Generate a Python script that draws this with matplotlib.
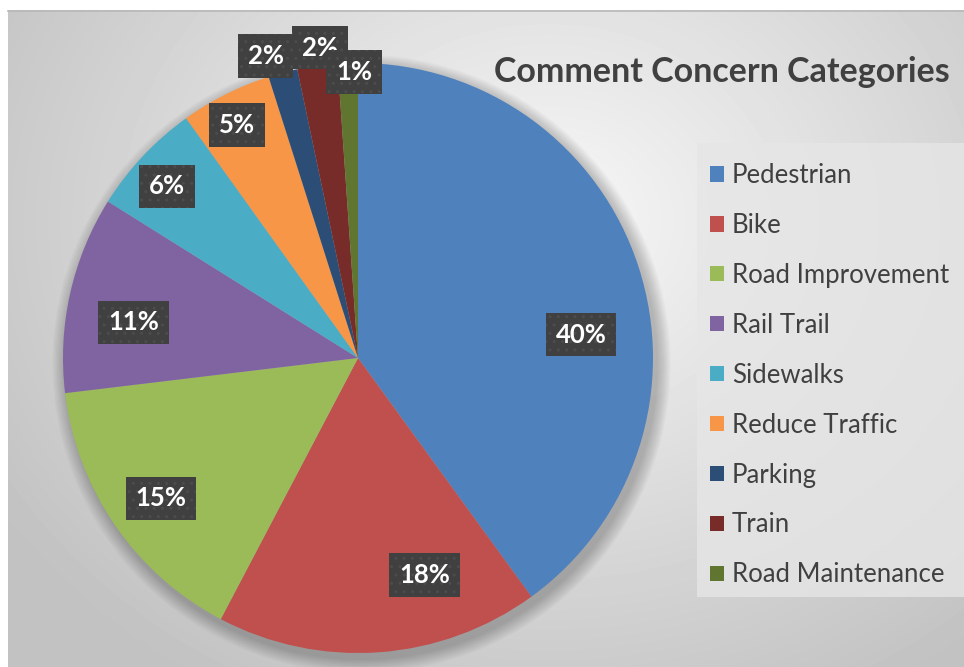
import numpy as np
import matplotlib.pyplot as plt
from matplotlib.patches import Rectangle, Circle

plt.rcParams['font.family'] = ['Lato', 'DejaVu Sans']

# data
categories = ['Pedestrian', 'Bike', 'Road Improvement', 'Rail Trail', 'Sidewalks',
              'Reduce Traffic', 'Parking', 'Train', 'Road Maintenance']
shares = [40.0, 17.7, 15.4, 10.8, 6.2, 5.0, 1.6, 2.2, 1.1]
colors = ['#4F81BD', '#C0504D', '#9BBB59', '#8064A2', '#4BACC6',
          '#F79646', '#2C4D75', '#772C2A', '#5F7530']

# label placement (clockwise degrees from top, radius fraction)
label_pos = [(84, 0.76), (163, 0.77), (234.5, 0.82), (279, 0.77), (312, 0.87),
             (332.5, 0.89), (343, 1.07), (353, 1.06), (359.2, 0.97)]

W, H = 964, 667
fig = plt.figure(figsize=(W / 100, H / 100), dpi=100)

# gradient background
bg = fig.add_axes([8 / W, 0, (W - 8) / W, (H - 10) / H])
yy, xx = np.mgrid[0:H - 10, 0:W - 8]
d = np.hypot((xx - 540) / 620, (yy - 210) / 520)
g = np.clip(0.97 - 0.2 * d, 0.76, 1)
bg.imshow(g, cmap='gray', vmin=0, vmax=1, aspect='auto', interpolation='bilinear')
bg.set_axis_off()
fig.add_artist(plt.Line2D([8 / W, 1], [1 - 10.5 / H] * 2, color='#b8b8b8', lw=1.2))

# pie axes: center (358, 358) px, radius 295 px
cx, cy, r = 358, 358, 295
lim = 1.2
ax = fig.add_axes([(cx - lim * r) / W, (H - cy - lim * r) / H, 2 * lim * r / W, 2 * lim * r / H])
ax.set_axis_off()

# soft shadow
for k in range(12):
    ax.add_patch(Circle((0.012, -0.02), 1.0 + 0.004 * (12 - k), color='black',
                        alpha=0.018, lw=0, zorder=0))

wedges, _ = ax.pie(shares, colors=colors, startangle=90, counterclock=False,
                   radius=1, wedgeprops=dict(linewidth=0))
ax.set_xlim(-lim, lim)
ax.set_ylim(-lim, lim)

total = sum(shares)
for v, (ang, rf) in zip(shares, label_pos):
    t = np.radians(ang)
    x, y = rf * np.sin(t), rf * np.cos(t)
    ax.text(x, y, f'{v / total * 100:.0f}%', ha='center', va='center',
            color='white', fontsize=18.5, fontweight='bold', zorder=5,
            bbox=dict(boxstyle='square,pad=0.38', facecolor='#404040',
                      edgecolor='#4c4c4c', hatch='..', linewidth=0))

# title
fig.text(950 / W, 1 - 72 / H, 'Comment Concern Categories', ha='right', va='center',
         fontsize=24.5, fontweight='bold', color='#404040')

# legend
fig.add_artist(Rectangle((697 / W, 1 - 597 / H), (W - 697) / W, (597 - 143) / H,
                         transform=fig.transFigure, facecolor='#e6e6e6',
                         edgecolor='none', alpha=0.8))
handles = [Rectangle((0, 0), 1, 1, facecolor=c, edgecolor='none') for c in colors]
fig.legend(handles, categories, loc='upper left', bbox_to_anchor=(710 / W, 1 - 163 / H),
           frameon=False, fontsize=18.5, labelcolor='#404040', handlelength=0.55,
           handleheight=0.55, handletextpad=0.3, labelspacing=0.97, borderpad=0,
           borderaxespad=0)

fig.savefig('out.png', dpi=100)
